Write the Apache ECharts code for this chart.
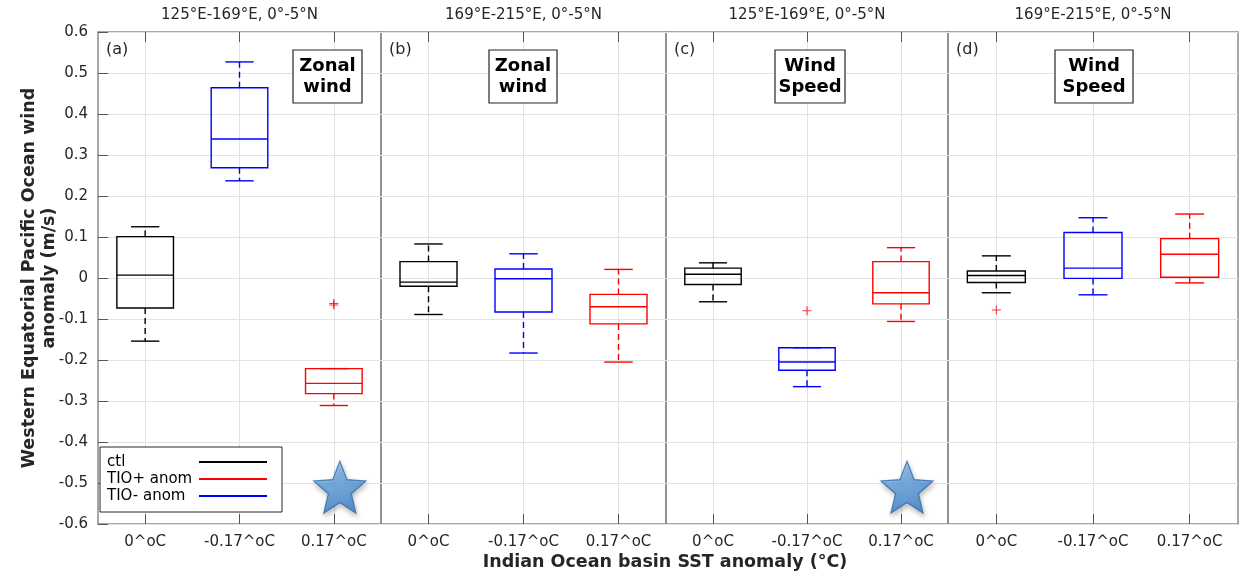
<!DOCTYPE html>
<html>
<head>
<meta charset="utf-8">
<script src="https://cdn.jsdelivr.net/npm/echarts@6/dist/echarts.min.js"></script>
<style>
html,body{margin:0;padding:0;background:#fff;}
#chart{width:1243px;height:573px;}
</style>
</head>
<body>
<div id="chart"></div>
<script>
// ---------- DATA ----------
const categories = ['0^oC', '-0.17^oC', '0.17^oC'];
const panelTitles = ['125°E-169°E, 0°-5°N', '169°E-215°E, 0°-5°N', '125°E-169°E, 0°-5°N', '169°E-215°E, 0°-5°N'];
const panelLetters = ['(a)', '(b)', '(c)', '(d)'];
const panelVars = ['Zonal\nwind', 'Zonal\nwind', 'Wind\nSpeed', 'Wind\nSpeed'];
const legendNames = ['ctl', 'TIO+ anom', 'TIO- anom'];
const yTitle = 'Western Equatorial Pacific Ocean wind\nanomaly (m/s)';
const xTitle = 'Indian Ocean basin SST anomaly (°C)';
const yTickValues = [-0.6, -0.5, -0.4, -0.3, -0.2, -0.1, 0, 0.1, 0.2, 0.3, 0.4, 0.5, 0.6];

// box stats per panel: [min whisker, Q1, median, Q3, max whisker]
const ctlStats = [
  [-0.154, -0.073, 0.007, 0.101, 0.125],
  [-0.089, -0.020, -0.010, 0.040, 0.083],
  [-0.058, -0.016, 0.009, 0.024, 0.037],
  [-0.036, -0.011, 0.006, 0.017, 0.054]
];
const tioMinusStats = [
  [0.237, 0.269, 0.339, 0.464, 0.527],
  [-0.183, -0.083, -0.002, 0.022, 0.059],
  [-0.265, -0.225, -0.205, -0.170, -0.170],
  [-0.041, -0.001, 0.024, 0.111, 0.147]
];
const tioPlusStats = [
  [-0.311, -0.282, -0.257, -0.221, -0.221],
  [-0.205, -0.112, -0.070, -0.040, 0.021],
  [-0.106, -0.063, -0.036, 0.040, 0.074],
  [-0.012, 0.002, 0.058, 0.096, 0.156]
];
// outliers per panel: [category index, value]
const outliers = [
  [[2, -0.062], [2, -0.066]],
  [],
  [[1, -0.080]],
  [[0, -0.078]]
];
// significance stars per panel: [category index, value] (empty = none)
const stars = [
  [[2, -0.51]],
  [],
  [[2, -0.51]],
  []
];

// ---------- LAYOUT / STYLE ----------
const panelBoxes = [
  {left: 98, width: 283},
  {left: 381, width: 285},
  {left: 666, width: 282},
  {left: 948, width: 290}
];
const gridTop = 32, gridHeight = 492;
const colors = {ctl: '#000000', minus: '#0000ff', plus: '#ff0000'};
const FONT = 'DejaVu Sans';
const starPath = 'path://M50,0 L62.93,32.2 L97.55,34.55 L70.92,56.8 L79.39,90.45 L50,72 L20.61,90.45 L29.08,56.8 L2.45,34.55 L37.07,32.2 Z';
const plusPath = 'path://M4.4,0 H5.6 V4.4 H10 V5.6 H5.6 V10 H4.4 V5.6 H0 V4.4 H4.4 Z';
const gridColor = '#e2e2e2';

function boxRender(color) {
  return function (params, api) {
    const cat = api.value(0);
    const pMin = api.coord([cat, api.value(1)]);
    const pQ1 = api.coord([cat, api.value(2)]);
    const pMed = api.coord([cat, api.value(3)]);
    const pQ3 = api.coord([cat, api.value(4)]);
    const pMax = api.coord([cat, api.value(5)]);
    const band = api.size([1, 0])[0];
    const bw = band * 0.6;
    const cap = bw * 0.5;
    const cx = pMed[0];
    const lw = 1.4;
    const solid = {stroke: color, lineWidth: lw, fill: null};
    const dashed = {stroke: color, lineWidth: lw, lineDash: [6, 4], fill: null};
    const children = [];
    if (pMax[1] < pQ3[1] - 0.5) {
      children.push({type: 'line', shape: {x1: cx, y1: pQ3[1], x2: cx, y2: pMax[1]}, style: dashed});
    }
    children.push({type: 'line', shape: {x1: cx - cap / 2, y1: pMax[1], x2: cx + cap / 2, y2: pMax[1]}, style: solid});
    if (pMin[1] > pQ1[1] + 0.5) {
      children.push({type: 'line', shape: {x1: cx, y1: pQ1[1], x2: cx, y2: pMin[1]}, style: dashed});
    }
    children.push({type: 'line', shape: {x1: cx - cap / 2, y1: pMin[1], x2: cx + cap / 2, y2: pMin[1]}, style: solid});
    children.push({type: 'rect', shape: {x: cx - bw / 2, y: pQ3[1], width: bw, height: pQ1[1] - pQ3[1]}, style: solid});
    children.push({type: 'line', shape: {x1: cx - bw / 2, y1: pMed[1], x2: cx + bw / 2, y2: pMed[1]}, style: solid});
    return {type: 'group', children: children};
  };
}

const grids = [], xAxes = [], yAxes = [], series = [], graphics = [];
// helper axis (7 half-band slots) used only to draw vertical grid lines through category centres
const halfSlots = ['', '', '', '', '', '', ''];

panelBoxes.forEach((pb, i) => {
  grids.push({left: pb.left, width: pb.width, top: gridTop, height: gridHeight,
    show: true, borderColor: '#8a8a8a', borderWidth: 1.5, backgroundColor: 'transparent'});
  // bottom axis
  xAxes.push({
    type: 'category', gridIndex: i, data: categories, position: 'bottom',
    axisLine: {show: false, onZero: false},
    axisTick: {show: true, inside: true, length: 10, alignWithLabel: true, lineStyle: {color: '#555'}},
    axisLabel: {fontFamily: FONT, fontSize: 15, color: '#262626', margin: 11},
    splitLine: {show: false}
  });
  // top axis (ticks only)
  xAxes.push({
    type: 'category', gridIndex: i, data: categories, position: 'top',
    axisLine: {show: false, onZero: false},
    axisTick: {show: true, inside: true, length: 10, alignWithLabel: true, lineStyle: {color: '#555'}},
    axisLabel: {show: false},
    splitLine: {show: false}
  });
  // grid-line helper axis
  xAxes.push({
    type: 'category', gridIndex: i, data: halfSlots, boundaryGap: false, position: 'bottom',
    axisLine: {show: false, onZero: false},
    axisTick: {show: false},
    axisLabel: {show: false},
    splitLine: {show: true, interval: (idx) => idx % 2 === 1, lineStyle: {color: gridColor, width: 1}}
  });
  yAxes.push({
    type: 'value', gridIndex: i, min: -0.6, max: 0.6, interval: 0.1,
    axisLine: {show: false},
    axisTick: {show: i === 0, inside: true, length: 10, lineStyle: {color: '#555'}},
    axisLabel: {show: i === 0, fontFamily: FONT, fontSize: 15, color: '#262626', margin: 10,
      formatter: v => {
        const r = Math.round(v * 10) / 10;
        const hit = yTickValues.find(t => Math.abs(t - r) < 1e-9);
        return hit === 0 ? '0' : hit.toFixed(1);
      }},
    splitLine: {show: true, lineStyle: {color: gridColor, width: 1}}
  });

  const xIdx = 3 * i;
  [[ctlStats[i], 0, colors.ctl], [tioMinusStats[i], 1, colors.minus], [tioPlusStats[i], 2, colors.plus]].forEach(([s, cat, col]) => {
    series.push({
      type: 'custom', xAxisIndex: xIdx, yAxisIndex: i,
      renderItem: boxRender(col),
      encode: {x: 0, y: [1, 2, 3, 4, 5]},
      data: [[cat].concat(s)],
      silent: true, z: 5
    });
  });
  if (outliers[i].length) {
    series.push({
      type: 'scatter', xAxisIndex: xIdx, yAxisIndex: i,
      symbol: plusPath, symbolSize: 9,
      itemStyle: {color: colors.plus},
      data: outliers[i], silent: true, z: 6
    });
  }
  if (stars[i].length) {
    series.push({
      type: 'scatter', xAxisIndex: xIdx, yAxisIndex: i,
      symbol: starPath, symbolSize: [52, 52], symbolOffset: [6, 0],
      itemStyle: {
        color: {type: 'linear', x: 0, y: 0, x2: 0.3, y2: 1, colorStops: [
          {offset: 0, color: '#a3d0f8'}, {offset: 0.5, color: '#62a3e0'}, {offset: 1, color: '#4284cf'}]},
        borderColor: '#2f69ae', borderWidth: 1.2,
        shadowBlur: 5, shadowColor: 'rgba(0,0,0,0.3)', shadowOffsetX: 1, shadowOffsetY: 3
      },
      data: stars[i], silent: true, z: 7
    });
  }

  const cxPanel = pb.left + pb.width / 2;
  graphics.push({type: 'text', x: cxPanel, y: 15, z: 10,
    style: {text: panelTitles[i], fontFamily: FONT, fontSize: 15, fill: '#262626', align: 'center', verticalAlign: 'middle'}});
  graphics.push({type: 'text', left: pb.left + 8, top: 42, z: 10,
    style: {text: panelLetters[i], fontFamily: FONT, fontSize: 16, fill: '#262626'}});
});

// variable label boxes
const varBoxes = [
  {x: 293, w: 69}, {x: 489, w: 68}, {x: 775, w: 70}, {x: 1055, w: 78}
];
varBoxes.forEach((b, i) => {
  graphics.push({type: 'rect', shape: {x: b.x, y: 50, width: b.w, height: 53}, z: 10,
    style: {fill: '#fff', stroke: '#262626', lineWidth: 1.2}});
  graphics.push({type: 'text', x: b.x + b.w / 2, y: 76.5, z: 11,
    style: {text: panelVars[i], fontFamily: FONT, fontSize: 18, fontWeight: 'bold', fill: '#000',
      align: 'center', verticalAlign: 'middle', lineHeight: 21}});
});

// legend box
const legendColors = [colors.ctl, colors.plus, colors.minus];
graphics.push({type: 'rect', shape: {x: 100, y: 447, width: 182, height: 65}, z: 10,
  style: {fill: '#fff', stroke: '#262626', lineWidth: 1}});
legendNames.forEach((n, k) => {
  const yy = 462 + k * 17;
  graphics.push({type: 'text', x: 107, y: yy, z: 11,
    style: {text: n, fontFamily: FONT, fontSize: 15, fill: '#000', verticalAlign: 'middle'}});
  graphics.push({type: 'line', shape: {x1: 199, y1: yy, x2: 267, y2: yy}, z: 11,
    style: {stroke: legendColors[k], lineWidth: 2}});
});

// y-axis title
graphics.push({type: 'text', x: 39, y: 278, rotation: Math.PI / 2, z: 10,
  style: {text: yTitle, fontFamily: FONT, fontSize: 17.5, fontWeight: 'bold', fill: '#262626',
    align: 'center', verticalAlign: 'middle', lineHeight: 20}});
// x-axis title
graphics.push({type: 'text', x: 665, y: 562, z: 10,
  style: {text: xTitle, fontFamily: FONT, fontSize: 17.5, fontWeight: 'bold',
    fill: '#262626', align: 'center', verticalAlign: 'middle'}});

const chart = echarts.init(document.getElementById('chart'), null, {renderer: 'canvas'});
chart.setOption({
  animation: false,
  backgroundColor: '#fff',
  grid: grids,
  xAxis: xAxes,
  yAxis: yAxes,
  series: series,
  graphic: graphics
});
</script>
</body>
</html>
